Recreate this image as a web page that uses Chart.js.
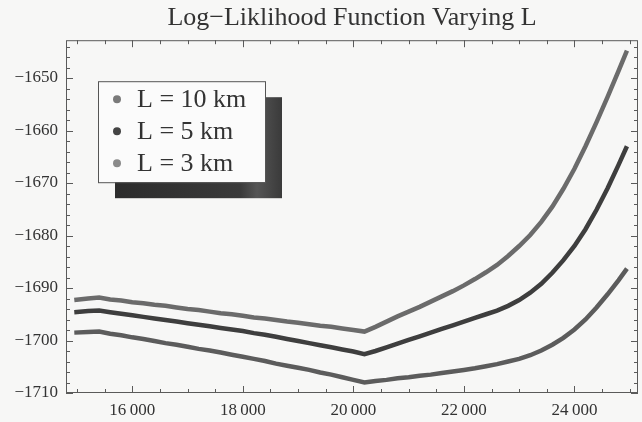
<!DOCTYPE html>
<html>
<head>
<meta charset="utf-8">
<script src="https://cdn.jsdelivr.net/npm/chart.js@4/dist/chart.umd.min.js"></script>
<style>
  html, body { margin: 0; padding: 0; background: #f7f7f6; }
  #wrap { width: 642px; height: 422px; }
</style>
</head>
<body>
<div id="wrap"><canvas id="llChart" width="642" height="422"></canvas></div>
<script>
// values
const xs = [14950, 15200, 15400, 15600, 15800, 16000, 16200, 16400, 16600, 16800,
  17000, 17200, 17400, 17600, 17800, 18000, 18200, 18400, 18600, 18800,
  19000, 19200, 19400, 19600, 19800, 20000, 20200, 20400, 20600, 20800,
  21000, 21200, 21400, 21600, 21800, 22000, 22200, 22400, 22600, 22800,
  23000, 23200, 23400, 23600, 23800, 24000, 24200, 24400, 24600, 24800, 24950];

const seriesNames = ['L = 10 km', 'L = 5 km', 'L = 3 km'];

const ll10 = [-1692.3, -1692.0, -1691.8, -1692.2, -1692.4, -1692.7, -1692.9, -1693.2, -1693.4, -1693.7,
  -1694.0, -1694.2, -1694.5, -1694.8, -1695.0, -1695.3, -1695.6, -1695.8, -1696.1, -1696.4,
  -1696.6, -1696.9, -1697.2, -1697.4, -1697.7, -1698.0, -1698.3, -1697.4, -1696.4, -1695.4,
  -1694.5, -1693.6, -1692.6, -1691.6, -1690.6, -1689.5, -1688.3, -1687.0, -1685.6, -1683.9,
  -1682.0, -1679.9, -1677.4, -1674.5, -1671.1, -1667.3, -1663.0, -1658.4, -1653.6, -1648.6, -1644.8];

const ll5 = [-1694.6, -1694.4, -1694.3, -1694.6, -1694.9, -1695.2, -1695.5, -1695.8, -1696.1, -1696.4,
  -1696.7, -1697.0, -1697.3, -1697.6, -1697.9, -1698.2, -1698.6, -1698.9, -1699.3, -1699.7,
  -1700.1, -1700.5, -1700.9, -1701.3, -1701.7, -1702.1, -1702.6, -1702.0, -1701.3, -1700.6,
  -1699.9, -1699.2, -1698.5, -1697.8, -1697.1, -1696.4, -1695.7, -1695.0, -1694.3, -1693.4,
  -1692.3, -1690.9, -1689.2, -1687.1, -1684.7, -1682.0, -1678.8, -1675.1, -1671.0, -1666.5, -1663.0];

const ll3 = [-1698.5, -1698.4, -1698.3, -1698.7, -1699.0, -1699.4, -1699.7, -1700.1, -1700.5, -1700.8,
  -1701.2, -1701.6, -1701.9, -1702.3, -1702.7, -1703.1, -1703.5, -1703.9, -1704.4, -1704.8,
  -1705.2, -1705.6, -1706.1, -1706.5, -1707.0, -1707.5, -1708.0, -1707.7, -1707.5, -1707.2,
  -1707.0, -1706.7, -1706.5, -1706.2, -1705.9, -1705.6, -1705.3, -1704.9, -1704.5, -1704.0,
  -1703.5, -1702.8, -1701.9, -1700.8, -1699.5, -1697.9, -1696.0, -1693.7, -1691.2, -1688.5, -1686.3];

const xTicks = [16000, 18000, 20000, 22000, 24000];
const yTicks = [-1710, -1700, -1690, -1680, -1670, -1660, -1650];

const lineColors = ['#6b6b6b', '#3e3e3e', '#5c5c5c'];
const dotColors = ['#7a7a7a', '#444444', '#8a8a8a'];

const serif = '"Liberation Serif", "Times New Roman", serif';

function toPoints(ys) {
  return xs.map((x, i) => ({ x: x, y: ys[i] }));
}

// Mathematica style frame with inward ticks on every side
const frameTicks = {
  id: 'frameTicks',
  afterDatasetsDraw(chart) {
    const ctx = chart.ctx;
    const a = chart.chartArea;
    const sx = chart.scales.x, sy = chart.scales.y;
    ctx.save();
    ctx.strokeStyle = '#5a5a5a';
    ctx.lineWidth = 1;
    ctx.strokeRect(a.left + 0.5, a.top + 0.5, a.right - a.left - 1, a.bottom - a.top - 1);
    ctx.beginPath();
    for (let v = 15000; v <= sx.max; v += 500) {
      const px = Math.round(sx.getPixelForValue(v)) + 0.5;
      const len = v % 2000 === 0 ? 7 : 4;
      ctx.moveTo(px, a.bottom); ctx.lineTo(px, a.bottom - len);
      ctx.moveTo(px, a.top); ctx.lineTo(px, a.top + len);
    }
    for (let v = -1710; v <= sy.max; v += 2) {
      const py = Math.round(sy.getPixelForValue(v)) + 0.5;
      const len = v % 10 === 0 ? 7 : 4;
      ctx.moveTo(a.left, py); ctx.lineTo(a.left + len, py);
      ctx.moveTo(a.right, py); ctx.lineTo(a.right - len, py);
    }
    ctx.stroke();
    ctx.restore();
  }
};

// boxed legend with a drop shadow, inside the plot
const boxLegend = {
  id: 'boxLegend',
  afterDraw(chart) {
    const ctx = chart.ctx;
    const a = chart.chartArea;
    const bx = a.left + 32, by = a.top + 41, bw = 167, bh = 101;
    ctx.save();
    const g = ctx.createLinearGradient(bx + 17, 0, bx + 17 + bw, 0);
    g.addColorStop(0, '#2c2c2c');
    g.addColorStop(0.75, '#3a3a3a');
    g.addColorStop(0.85, '#555555');
    g.addColorStop(1, '#3a3a3a');
    ctx.fillStyle = g;
    ctx.fillRect(bx + 17, by + 16, bw, bh);
    ctx.fillStyle = '#fbfbfb';
    ctx.fillRect(bx, by, bw, bh);
    ctx.strokeStyle = '#555';
    ctx.lineWidth = 1;
    ctx.strokeRect(bx + 0.5, by + 0.5, bw, bh);
    ctx.font = '26px ' + serif;
    ctx.textBaseline = 'middle';
    chart.data.datasets.forEach((ds, i) => {
      const cy = by + 18 + i * 32;
      ctx.fillStyle = dotColors[i];
      ctx.beginPath();
      ctx.arc(bx + 19, cy, 4, 0, Math.PI * 2);
      ctx.fill();
      ctx.fillStyle = '#333';
      ctx.fillText(ds.label, bx + 39, cy + 1);
    });
    ctx.restore();
  }
};

const ctx = document.getElementById('llChart').getContext('2d');
new Chart(ctx, {
  type: 'line',
  data: {
    datasets: [ll10, ll5, ll3].map((ys, i) => ({
      label: seriesNames[i],
      data: toPoints(ys),
      borderColor: lineColors[i],
      borderWidth: 4.5,
      pointRadius: 0,
      tension: 0,
      fill: false
    }))
  },
  options: {
    responsive: false,
    animation: false,
    layout: { padding: { left: 0, right: 4, top: 0, bottom: 0 } },
    plugins: {
      legend: { display: false },
      tooltip: { enabled: false },
      title: {
        display: true,
        fullSize: false,
        text: 'Log\u2212Liklihood Function Varying L',
        color: '#333',
        font: { family: serif, size: 26, weight: 'normal' },
        padding: { top: 3, bottom: 6 }
      }
    },
    scales: {
      x: {
        type: 'linear',
        min: 14800,
        max: 25150,
        grid: { display: false, drawTicks: false },
        border: { display: false },
        afterBuildTicks(scale) { scale.ticks = xTicks.map(v => ({ value: v })); },
        afterFit(scale) { scale.height = 29; },
        ticks: {
          color: '#333',
          padding: 7,
          maxRotation: 0,
          font: { family: serif, size: 17 },
          callback: v => String(v).replace(/(\d{2})(\d{3})$/, '$1\u2009$2')
        }
      },
      y: {
        min: -1710,
        max: -1642.8,
        grid: { display: false, drawTicks: false },
        border: { display: false },
        afterBuildTicks(scale) { scale.ticks = yTicks.map(v => ({ value: v })); },
        afterFit(scale) { scale.width = 66; },
        ticks: {
          color: '#333',
          padding: 8,
          font: { family: serif, size: 17 },
          callback: v => String(v).replace('-', '\u2212')
        }
      }
    }
  },
  plugins: [frameTicks, boxLegend]
});
</script>
</body>
</html>
